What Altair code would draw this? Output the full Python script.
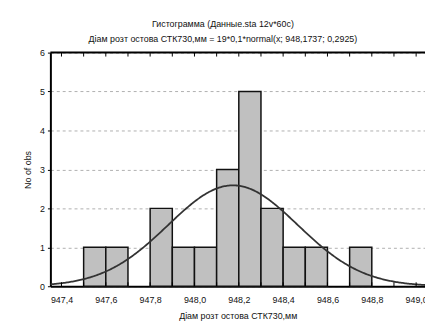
import altair as alt
import pandas as pd

# Histogram bins (width 0.1) and counts
bin_start = [947.5, 947.6, 947.8, 947.9, 948.0, 948.1, 948.2, 948.3, 948.4, 948.5, 948.7]
bin_end = [947.6, 947.7, 947.9, 948.0, 948.1, 948.2, 948.3, 948.4, 948.5, 948.6, 948.8]
counts = [1, 1, 2, 1, 1, 3, 5, 2, 1, 1, 1]

# Axis ticks
x_label_ticks = [947.4, 947.6, 947.8, 948.0, 948.2, 948.4, 948.6, 948.8, 949.0]
x_minor_ticks = [947.4, 947.5, 947.6, 947.7, 947.8, 947.9, 948.0, 948.1, 948.2,
                 948.3, 948.4, 948.5, 948.6, 948.7, 948.8, 948.9, 949.0]
y_ticks = [0, 1, 2, 3, 4, 5, 6]

# Fitted normal curve parameters (from the subtitle)
n_obs = 19
bin_width = 0.1
mu = 948.1737
sigma = 0.2925

x_domain = [947.35, 949.04]
y_domain = [0, 6]
FONT = "Liberation Sans"

bars_df = pd.DataFrame({"start": bin_start, "end": bin_end, "count": counts})
ticks_df = pd.DataFrame({"t": x_minor_ticks})

xscale = alt.Scale(domain=x_domain, nice=False, zero=False)
yscale = alt.Scale(domain=y_domain, nice=False)

label_expr = "replace(format(datum.value, '.1f'), '.', ',')"

x_axis = alt.Axis(values=x_label_ticks, labelExpr=label_expr, ticks=False,
                  grid=False, domainColor="#000", domainWidth=2,
                  labelOverlap=False,
                  labelFont=FONT, labelFontSize=9, labelColor="#111",
                  labelPadding=9, title="Діам розт остова СТК730,мм",
                  titleFont=FONT, titleFontSize=9, titleFontWeight="normal",
                  titleColor="#111", titlePadding=8)
y_axis = alt.Axis(values=y_ticks, tickSize=3, tickColor="#000", tickWidth=1,
                  domainColor="#000", domainWidth=2, labelOverlap=False,
                  grid=True, gridDash=[3, 3], gridColor="#b0b0b0", gridWidth=1,
                  labelFont=FONT, labelFontSize=9, labelColor="#111",
                  labelPadding=3, title="No of obs",
                  titleFont=FONT, titleFontSize=9, titleFontWeight="normal",
                  titleColor="#111", titlePadding=7)

bars = alt.Chart(bars_df).mark_bar(
    fill="#c0c0c0", stroke="#111111", strokeWidth=1.5
).encode(
    x=alt.X("start:Q", scale=xscale, axis=x_axis),
    x2="end:Q",
    y=alt.Y("count:Q", scale=yscale, axis=y_axis),
    y2=alt.datum(0),
)

curve = alt.Chart(alt.sequence(947.3, 949.1, 0.005, as_="x")).transform_calculate(
    y=f"{n_obs}*{bin_width}*exp(-0.5*pow((datum.x-{mu})/{sigma},2))/({sigma}*sqrt(2*PI))"
).mark_line(color="#333333", strokeWidth=1.8, clip=True).encode(
    x=alt.X("x:Q", scale=xscale, axis=x_axis),
    y=alt.Y("y:Q", scale=yscale, axis=y_axis),
)

top_line = alt.Chart(pd.DataFrame({"v": [6]})).mark_rule(
    color="#000", strokeWidth=2
).encode(y=alt.Y("v:Q", scale=yscale, axis=y_axis))

top_ticks = alt.Chart(ticks_df).mark_rule(color="#000", strokeWidth=1).encode(
    x=alt.X("t:Q", scale=xscale, axis=x_axis), y=alt.value(0), y2=alt.value(4)
)
bottom_ticks = alt.Chart(ticks_df).mark_rule(color="#000", strokeWidth=1).encode(
    x=alt.X("t:Q", scale=xscale, axis=x_axis), y=alt.value(233), y2=alt.value(237)
)

chart = alt.layer(bars, curve, top_line, top_ticks, bottom_ticks).properties(
    width=380,
    height=237,
    autosize=alt.AutoSizeParams(type="none"),
    padding={"left": 43, "top": 43, "right": 0, "bottom": 33},
    background="white",
    title=alt.TitleParams(
        text="Гистограмма (Данные.sta 12v*60c)",
        subtitle="Діам розт остова СТК730,мм = 19*0,1*normal(x; 948,1737; 0,2925)",
        font=FONT, fontSize=9, fontWeight="normal", color="#111",
        subtitleFont=FONT, subtitleFontSize=9, subtitleColor="#111",
        anchor="middle", dx=-15, offset=5, subtitlePadding=6,
    ),
).configure_view(stroke=None)

chart.save("out.html", embed_options={"renderer": "svg", "actions": False})
